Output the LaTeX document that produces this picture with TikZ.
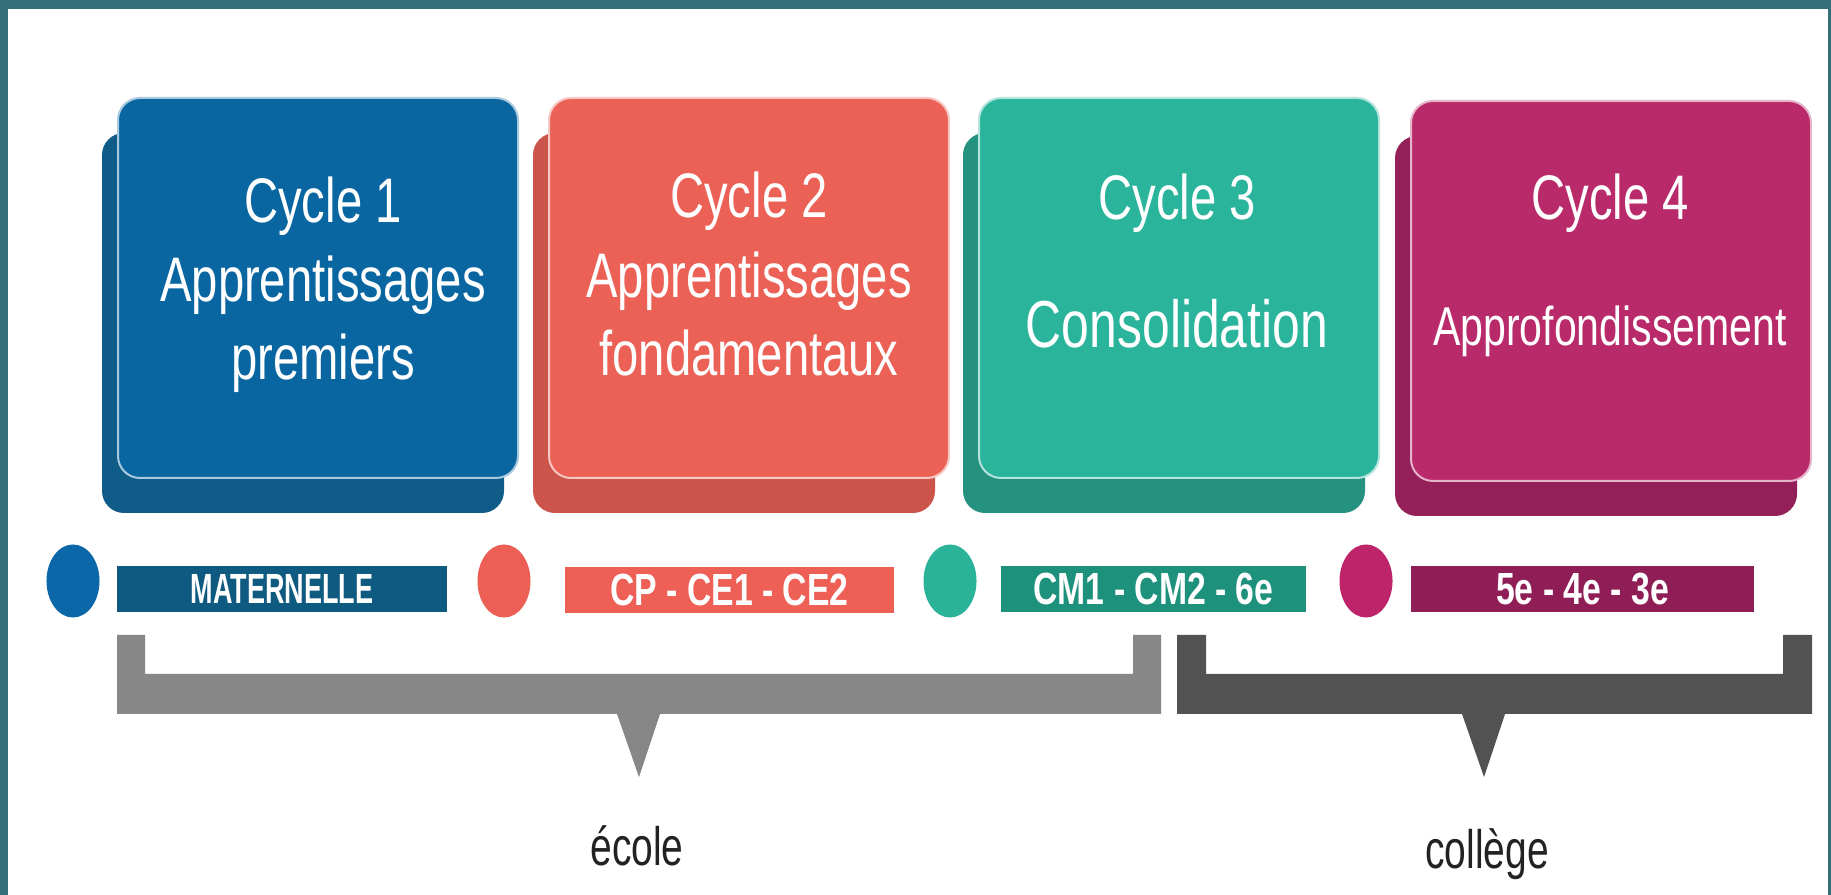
\documentclass[tikz,border=0pt]{standalone}
\usepackage{fontspec}
\setmainfont{Liberation Sans}
\newfontfamily\tfont[FakeStretch=0.75]{Liberation Sans}
\newfontfamily\lfont[FakeStretch=0.72]{Liberation Sans}
\newfontfamily\bfontA[FakeStretch=0.75]{Liberation Sans Bold}
\newfontfamily\bfontB[FakeStretch=0.64]{Liberation Sans Bold}
\definecolor{frame}{HTML}{356F79}
\definecolor{cAf}{HTML}{0A66A1}\definecolor{cAb}{HTML}{0F5C88}\definecolor{cAbar}{HTML}{0F5A80}\definecolor{cAc}{HTML}{0B67A7}
\definecolor{cBf}{HTML}{EC6156}\definecolor{cBb}{HTML}{CB544B}\definecolor{cBbar}{HTML}{EE6055}\definecolor{cBc}{HTML}{EB5F55}
\definecolor{cCf}{HTML}{2AB49B}\definecolor{cCb}{HTML}{24927F}\definecolor{cCbar}{HTML}{1E917C}\definecolor{cCc}{HTML}{2BB39A}
\definecolor{cDf}{HTML}{B92A6A}\definecolor{cDb}{HTML}{94205A}\definecolor{cDbar}{HTML}{8F1E57}\definecolor{cDc}{HTML}{BE2469}
\definecolor{brgray}{HTML}{878787}\definecolor{brdark}{HTML}{525252}\definecolor{txt}{HTML}{222222}
\tikzset{
  backbox/.style={rounded corners=0.22cm},
  frontbox/.style={rounded corners=0.22cm, line width=0.02cm},
  titletext/.style={anchor=base, inner sep=0pt, text=white, font=\tfont\fontsize{17.9pt}{20pt}\selectfont},
  bigtext/.style={anchor=base, inner sep=0pt, text=white, font=\tfont\fontsize{18.9pt}{21pt}\selectfont},
  subtext/.style={anchor=base, inner sep=0pt, text=white, font=\tfont\fontsize{15.55pt}{19pt}\selectfont},
  dot/.style={ellipse, minimum width=0.53cm, minimum height=0.73cm, inner sep=0pt},
  bar/.style={rectangle, minimum height=0.46cm, inner sep=0pt, text=white, font=\bfontA\fontsize{12.8pt}{14pt}\selectfont},
  lowtext/.style={anchor=base, inner sep=0pt, text=txt, font=\lfont\fontsize{15.4pt}{18pt}\selectfont}
}
\usetikzlibrary{shapes.geometric}
\begin{document}
\begin{tikzpicture}[x=0.01cm, y=-0.01cm]
\useasboundingbox (0,0) rectangle (1831,895);
\fill[frame] (0,0) rectangle (1831,895);
\fill[white] (8,9) rectangle (1828,895);
% boxes
\foreach \x/\y/\c in {118/98/A, 549/98/B, 979/98/C, 1411/101/D}{
  \fill[backbox, c\c b] (\x-16,\y+35) rectangle (\x+386,\y+415);
  \filldraw[frontbox, fill=c\c f, draw=white!65!c\c f] (\x,\y) rectangle (\x+400,\y+380);
}
\node[titletext] (t1a) at (323,223) {Cycle 1};
\node[titletext] (t1b) at (323,302) {Apprentissages};
\node[titletext] (t1c) at (323,380) {premiers};
\node[titletext] (t2a) at (749,218) {Cycle 2};
\node[titletext] (t2b) at (749,298) {Apprentissages};
\node[titletext] (t2c) at (749,376) {fondamentaux};
\node[titletext] (t3a) at (1177,220) {Cycle 3};
\node[bigtext] (t3b) at (1177,348) {Consolidation};
\node[titletext] (t4a) at (1610,220) {Cycle 4};
\node[subtext] (t4b) at (1610,346) {Approfondissement};
% dots and bars
\node[dot, fill=cAc] (d1) at (73,581) {};
\node[dot, fill=cBc] (d2) at (504,581) {};
\node[dot, fill=cCc] (d3) at (950,581) {};
\node[dot, fill=cDc] (d4) at (1366,581) {};
\node[bar, fill=cAbar, minimum width=3.30cm, font=\bfontB\fontsize{12pt}{14pt}\selectfont] (l1) at (282,589) {MATERNELLE};
\node[bar, fill=cBbar, minimum width=3.29cm] (l2) at (729.5,590) {CP - CE1 - CE2};
\node[bar, fill=cCbar, minimum width=3.05cm] (l3) at (1153.5,589) {CM1 - CM2 - 6e};
\node[bar, fill=cDbar, minimum width=3.43cm] (l4) at (1582.5,589) {5e - 4e - 3e};
% brackets
\fill[brgray] (117,635) -- (145,635) -- (145,674) -- (1133,674) -- (1133,635) -- (1161,635) -- (1161,714)
  -- (660,714) -- (639,777) -- (617,714) -- (117,714) -- cycle;
\fill[brdark] (1177,635) -- (1206,635) -- (1206,674) -- (1783,674) -- (1783,635) -- (1812,635) -- (1812,714)
  -- (1505,714) -- (1484,777) -- (1462,714) -- (1177,714) -- cycle;
\node[lowtext] (ecole) at (637,865) {école};
\node[lowtext] (college) at (1487,868) {collège};
\end{tikzpicture}
\end{document}
